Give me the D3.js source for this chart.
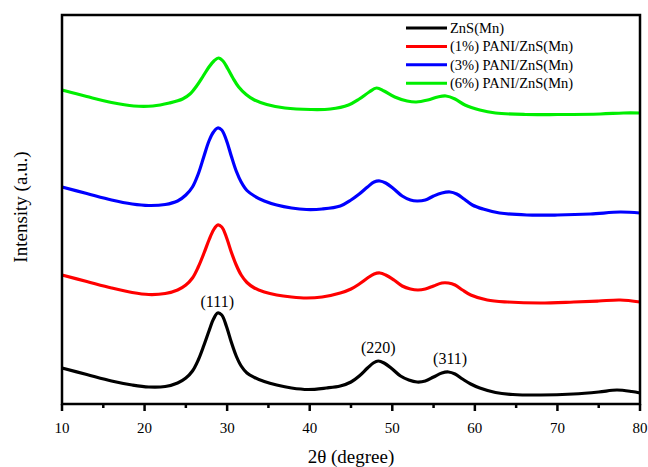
<!DOCTYPE html>
<html><head><meta charset="utf-8">
<script src="https://cdn.jsdelivr.net/npm/d3@7"></script>
<style>body{margin:0;background:#fff}svg{display:block}</style>
</head><body><svg id="c" width="648" height="467" font-family="'Liberation Serif','DejaVu Serif',serif"></svg>
<script>
const seriesNames = ["ZnS(Mn)", "(1%) PANI/ZnS(Mn)", "(3%) PANI/ZnS(Mn)", "(6%) PANI/ZnS(Mn)"];
const seriesColors = ["#000000", "#ff0000", "#0000ff", "#00ee00"];
const xTicks = [10, 20, 30, 40, 50, 60, 70, 80];
const peakLabels = [{t:"(111)", x:28.8, y:97}, {t:"(220)", x:48.3, y:51}, {t:"(311)", x:57.0, y:40}];

const znsX = [10,13,16,18.5,20.5,22.5,24,25,25.8,26.5,27.2,27.8,28.35,28.85,29.35,29.9,30.5,31.1,31.7,32.4,33.3,34.5,36,37.8,39.8,42,43.7,45,46,47,47.7,48.3,49,50,51,52,53,54,55,56,56.8,57.6,58.5,59.5,60.6,62.5,64.6,68,71.9,75,77.2,79,80];
const znsY = [36,29.5,23,19,17,17.5,21,26,33,44,59,73,85,91,89,78,62,48,38,31,26.5,22.5,19,16,14.5,16,18,22,28,36,41,43,41,35,28,24,22,23,27,31,32,30,25,20,16,11.5,9.5,9,10,12,14,12.5,11];

const p1X = [10,13,16,18.5,20.5,22.5,24,25,25.8,26.5,27.2,27.8,28.35,28.85,29.35,29.9,30.5,31.1,31.7,32.4,33.3,34.5,36,37.8,39.6,41.5,43.7,45,46,47,47.8,48.5,49.2,50.2,51.2,52.2,53.1,54,55,56,56.8,57.6,58.5,59.5,61.5,64,67.9,72,75,77.6,80];
const p1Y = [129,122.5,116,111.5,109.5,110.5,114,119,126,137,151,164,174,179,177,167,152,139,129,121.5,116,112,109,107,106,107,111,115,120,126,130,131,129,124,118,115,114,115,118,121,121,119,114,109,104,102,101,102,103,104,102];

const p3X = [10,13,16,18.5,20.5,22.5,24,25,25.8,26.5,27.2,27.8,28.35,28.85,29.35,29.9,30.5,31.1,31.7,32.4,33.3,34.5,36,37.8,39.6,41.5,43.7,45,46,47,47.8,48.5,49.2,50.2,51.2,52.2,53,54,55,56,57,57.8,58.7,59.7,61,63,66.3,70,74,77.6,80];
const p3Y = [217,210.5,204,200,198.5,199.5,203,209,217,230,248,263,272,276,274,264,248,233,222,213.5,208,203,199,196,194.5,195,198,204,210,217,222,223,221,215,208,204,203,204,208,211,212,210,205,199,195,191,189,189,190,192,191];

const p6X = [10,13,16,18.7,21,23,24.6,25.5,26.3,27.1,27.8,28.4,28.95,29.5,30.1,30.7,31.4,32.3,33.3,34.8,37,40.1,42.5,44.7,46,47.2,48.1,49,50.3,51.8,52.9,54.3,55.5,56.5,57.6,58.8,60.6,62.5,66.1,70,75.2,78,80];
const p6Y = [314,307.5,301.5,298,298,301,305,310,318,328,337,343,346,343,335,326,317,309.5,304,299.5,296,294.5,295,299,305,312,316,313,307,303,302,304,307,308,305,299,294,291,289.5,289.5,290,291,291];

const seriesX = [znsX, p1X, p3X, p6X];
const seriesY = [znsY, p1Y, p3Y, p6Y];

const svg = d3.select("#c");
const L = 62, R = 640, T = 15, B = 404;
const x = d3.scaleLinear().domain([10, 80]).range([L, R]);
const y = d3.scaleLinear().domain([0, 389]).range([B, T]);

const line = d3.line().x(d => x(d[0])).y(d => y(d[1])).curve(d3.curveCatmullRom.alpha(0.5));
seriesX.forEach((xs, i) => {
  const pts = xs.map((v, j) => [v, seriesY[i][j]]);
  svg.append("path").attr("d", line(pts)).attr("fill", "none")
    .attr("stroke", seriesColors[i]).attr("stroke-width", 3.2).attr("stroke-linejoin", "round");
});

// frame
svg.append("rect").attr("x", L).attr("y", T).attr("width", R - L).attr("height", B - T)
  .attr("fill", "none").attr("stroke", "#000").attr("stroke-width", 2.5);

// x axis ticks
const gx = svg.append("g").attr("transform", `translate(0,${B})`);
const minor = d3.range(15, 80, 10);
gx.selectAll(".mj").data(xTicks).join("line").attr("x1", d => x(d)).attr("x2", d => x(d))
  .attr("y1", 0).attr("y2", 7).attr("stroke", "#000").attr("stroke-width", 2.5);
gx.selectAll(".mn").data(minor).join("line").attr("x1", d => x(d)).attr("x2", d => x(d))
  .attr("y1", 0).attr("y2", 4).attr("stroke", "#000").attr("stroke-width", 2.5);
gx.selectAll(".lb").data(xTicks).join("text").attr("x", d => x(d)).attr("y", 29)
  .attr("text-anchor", "middle").attr("font-size", 15).text(d => d);

svg.append("text").attr("x", 351).attr("y", 463).attr("text-anchor", "middle")
  .attr("font-size", 19).text("2θ (degree)");
svg.append("text").attr("transform", "translate(27,207) rotate(-90)").attr("text-anchor", "middle")
  .attr("font-size", 19).text("Intensity (a.u.)");

// peak labels
svg.selectAll(".pk").data(peakLabels).join("text").attr("x", d => x(d.x)).attr("y", d => y(d.y))
  .attr("text-anchor", "middle").attr("font-size", 16).text(d => d.t);

// legend
const lg = svg.append("g");
seriesNames.forEach((n, i) => {
  const yy = 28 + i * 18.4;
  lg.append("line").attr("x1", 406).attr("x2", 447).attr("y1", yy).attr("y2", yy)
    .attr("stroke", seriesColors[i]).attr("stroke-width", 3);
  lg.append("text").attr("x", 450).attr("y", yy + 5).attr("font-size", 14.5).text(n);
});
</script></body></html>
